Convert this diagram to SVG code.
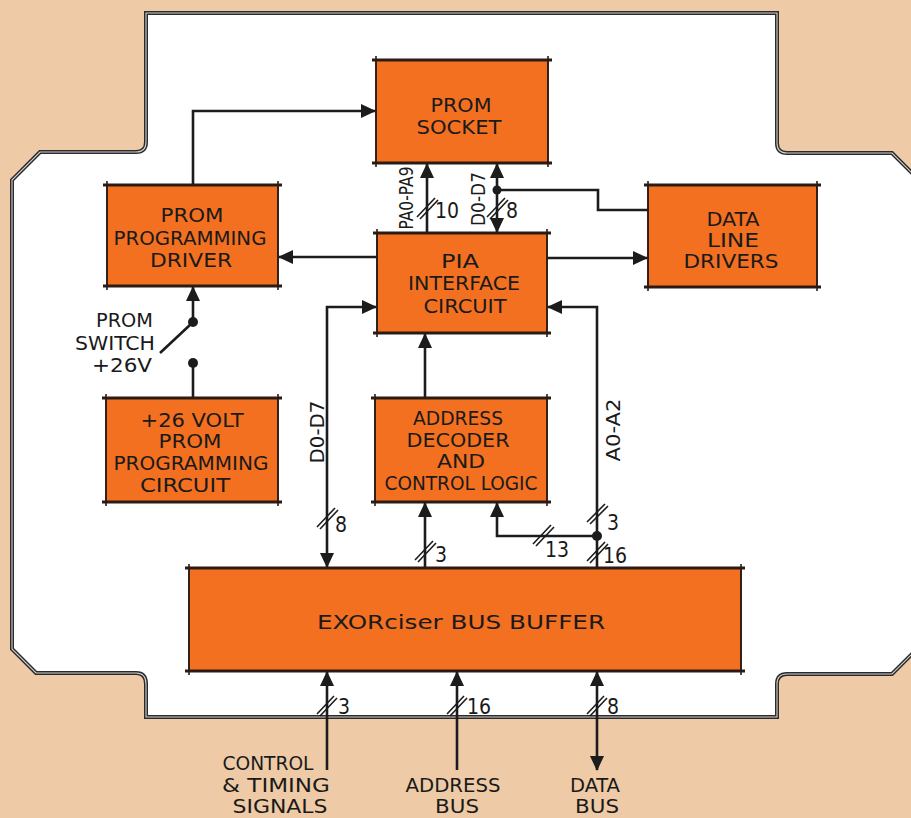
<svg xmlns="http://www.w3.org/2000/svg" xmlns:xlink="http://www.w3.org/1999/xlink" width="911" height="818" viewBox="0 0 911 818">
<style>
.box{fill:#F37021;stroke:#2a1c14;stroke-width:1.6}
.hz{stroke:#2a1c14;stroke-width:3;fill:none}
.vt{stroke:#2a1c14;stroke-width:1.6;fill:none}
.t{font-family:"DejaVu Sans Condensed","DejaVu Sans","Liberation Sans",sans-serif;font-size:20px;fill:#1a1a1a;text-anchor:middle}
.n{text-anchor:start;font-size:21px}
.e{text-anchor:end}
.c{fill:none;stroke:#1c1c1c;stroke-width:2.6}
.ae{marker-end:url(#ah)}
.as{marker-start:url(#ah)}
.sl{fill:none;stroke:#1c1c1c;stroke-width:1.6}
.dot{fill:#1c1c1c}
</style>
<defs>
<marker id="ah" viewBox="0 0 15 14" markerWidth="15" markerHeight="14" refX="14" refY="7" orient="auto-start-reverse" markerUnits="userSpaceOnUse">
<path d="M0,0 L15,7 L0,14 Z" fill="#1c1c1c"/>
</marker>
<path id="outline" d="M146,13 H777 V143 Q777,153 787,153 H892 L925,186 V641 L892,674 H787 Q777,674 777,684 V717 H146 V684 Q146,673 136,673 H36 L12,649 V180 L40,152 H136 Q146,152 146,142 Z"/>
</defs>
<rect x="0" y="0" width="911" height="818" fill="#EECBA6"/>
<g id="board">
<use xlink:href="#outline" fill="#ffffff" stroke="#2b2b2b" stroke-width="4"/>
<use xlink:href="#outline" fill="none" stroke="#cfcfcf" stroke-width="1.1"/>
</g>
<g id="connectors">
<path class="c ae" d="M193,185 V111 H375"/>
<path class="c ae" d="M377,257 H279"/>
<path class="c ae" d="M427,233 V164"/>
<path class="c ae as" d="M497,232 V164"/>
<path class="c" d="M497,190 H598 V210 H648"/>
<path class="c ae" d="M547,258 H647"/>
<path class="c ae" d="M193,322 V287"/>
<path class="c" d="M191,324 L160,353"/>
<path class="c" d="M193,363 V398"/>
<path class="c ae as" d="M327,567 V307 H376"/>
<path class="c ae" d="M597,568 V307 H548"/>
<path class="c ae" d="M425,398 V334"/>
<path class="c ae" d="M425,568 V503"/>
<path class="c ae" d="M597,536 H497 V503"/>
<path class="c ae" d="M327,770 V672"/>
<path class="c ae" d="M457,770 V672"/>
<path class="c ae as" d="M597,770 V672"/>
<circle class="dot" cx="497" cy="190" r="4.5"/>
<circle class="dot" cx="193" cy="322" r="5"/>
<circle class="dot" cx="193" cy="363" r="5"/>
<circle class="dot" cx="597" cy="536" r="5"/>
<path class="sl" d="M417,217 L435,198 M420,219 L438,200"/>
<path class="sl" d="M487,217 L505,198 M490,219 L508,200"/>
<path class="sl" d="M317,527 L335,508 M320,529 L338,510"/>
<path class="sl" d="M415,560 L433,541 M418,562 L436,543"/>
<path class="sl" d="M533,544 L551,525 M536,546 L554,527"/>
<path class="sl" d="M587,522 L605,504 M590,524 L608,506"/>
<path class="sl" d="M587,561 L605,542 M590,563 L608,544"/>
<path class="sl" d="M317,714 L334,696 M320,716 L337,698"/>
<path class="sl" d="M447,714 L464,696 M450,716 L467,698"/>
<path class="sl" d="M587,714 L604,696 M590,716 L607,698"/>
<text class="t" transform="translate(413,198) rotate(-90)" font-size="19" textLength="63" lengthAdjust="spacingAndGlyphs">PA0-PA9</text>
<text class="t" transform="translate(485,199) rotate(-90)" font-size="22" textLength="54" lengthAdjust="spacingAndGlyphs">D0-D7</text>
<text class="t" transform="translate(324,432) rotate(-90)" font-size="24" textLength="63" lengthAdjust="spacingAndGlyphs">D0-D7</text>
<text class="t" transform="translate(620,430) rotate(-90)" font-size="24" textLength="63" lengthAdjust="spacingAndGlyphs">A0-A2</text>
<text class="t n" x="435" y="218">10</text>
<text class="t n" x="506" y="218">8</text>
<text class="t n" x="335" y="532">8</text>
<text class="t n" x="435" y="562">3</text>
<text class="t n" x="545" y="557">13</text>
<text class="t n" x="607" y="530">3</text>
<text class="t n" x="603" y="563">16</text>
<text class="t n" x="338" y="714">3</text>
<text class="t n" x="467" y="714">16</text>
<text class="t n" x="607" y="714">8</text>
<text class="t e" x="153" y="327" textLength="57" lengthAdjust="spacingAndGlyphs">PROM</text>
<text class="t e" x="155" y="350" textLength="80" lengthAdjust="spacingAndGlyphs">SWITCH</text>
<text class="t e" x="152" y="372" textLength="60" lengthAdjust="spacingAndGlyphs">+26V</text>
<text class="t" x="268" y="770" textLength="91" lengthAdjust="spacingAndGlyphs">CONTROL</text>
<text class="t" x="276" y="792" textLength="108" lengthAdjust="spacingAndGlyphs">&amp; TIMING</text>
<text class="t" x="280" y="813" textLength="95" lengthAdjust="spacingAndGlyphs">SIGNALS</text>
<text class="t" x="453" y="792" textLength="95" lengthAdjust="spacingAndGlyphs">ADDRESS</text>
<text class="t" x="457" y="813" textLength="44" lengthAdjust="spacingAndGlyphs">BUS</text>
<text class="t" x="595" y="792" textLength="50" lengthAdjust="spacingAndGlyphs">DATA</text>
<text class="t" x="597" y="813" textLength="44" lengthAdjust="spacingAndGlyphs">BUS</text>
</g>
<g id="prom-socket">
<rect class="box" x="376" y="60" width="172" height="103"/>
<path class="hz" d="M372,60 H552 M372,163 H552"/>
<path class="vt" d="M376,56 V167 M548,56 V167"/>
<text class="t" x="461" y="112" font-size="22" textLength="61" lengthAdjust="spacingAndGlyphs">PROM</text>
<text class="t" x="459" y="134" font-size="22" textLength="85" lengthAdjust="spacingAndGlyphs">SOCKET</text>
</g>
<g id="prom-programming-driver">
<rect class="box" x="107" y="185" width="171" height="101"/>
<path class="hz" d="M103,185 H282 M103,286 H282"/>
<path class="vt" d="M107,181 V290 M278,181 V290"/>
<text class="t" x="192" y="222" textLength="63" lengthAdjust="spacingAndGlyphs">PROM</text>
<text class="t" x="190" y="245" textLength="153" lengthAdjust="spacingAndGlyphs">PROGRAMMING</text>
<text class="t" x="191" y="267" textLength="82" lengthAdjust="spacingAndGlyphs">DRIVER</text>
</g>
<g id="pia-interface">
<rect class="box" x="377" y="233" width="170" height="100"/>
<path class="hz" d="M373,233 H551 M373,333 H551"/>
<path class="vt" d="M377,229 V337 M547,229 V337"/>
<text class="t" x="460" y="268" textLength="38" lengthAdjust="spacingAndGlyphs">PIA</text>
<text class="t" x="464" y="290" textLength="112" lengthAdjust="spacingAndGlyphs">INTERFACE</text>
<text class="t" x="465" y="313" textLength="83" lengthAdjust="spacingAndGlyphs">CIRCUIT</text>
</g>
<g id="data-line-drivers">
<rect class="box" x="648" y="185" width="169" height="102"/>
<path class="hz" d="M644,185 H821 M644,287 H821"/>
<path class="vt" d="M648,181 V291 M817,181 V291"/>
<text class="t" x="733" y="226" textLength="53" lengthAdjust="spacingAndGlyphs">DATA</text>
<text class="t" x="733" y="247" textLength="52" lengthAdjust="spacingAndGlyphs">LINE</text>
<text class="t" x="731" y="268" textLength="95" lengthAdjust="spacingAndGlyphs">DRIVERS</text>
</g>
<g id="prom-programming-circuit">
<rect class="box" x="106" y="398" width="172" height="104"/>
<path class="hz" d="M102,398 H282 M102,502 H282"/>
<path class="vt" d="M106,394 V506 M278,394 V506"/>
<text class="t" x="192" y="427" textLength="103" lengthAdjust="spacingAndGlyphs">+26 VOLT</text>
<text class="t" x="190" y="448" textLength="63" lengthAdjust="spacingAndGlyphs">PROM</text>
<text class="t" x="191" y="470" textLength="155" lengthAdjust="spacingAndGlyphs">PROGRAMMING</text>
<text class="t" x="185" y="492" textLength="90" lengthAdjust="spacingAndGlyphs">CIRCUIT</text>
</g>
<g id="address-decoder">
<rect class="box" x="375" y="398" width="172" height="104"/>
<path class="hz" d="M371,398 H551 M371,502 H551"/>
<path class="vt" d="M375,394 V506 M547,394 V506"/>
<text class="t" x="458" y="425" textLength="90" lengthAdjust="spacingAndGlyphs">ADDRESS</text>
<text class="t" x="458" y="447" textLength="103" lengthAdjust="spacingAndGlyphs">DECODER</text>
<text class="t" x="461" y="468" textLength="48" lengthAdjust="spacingAndGlyphs">AND</text>
<text class="t" x="461" y="490" textLength="153" lengthAdjust="spacingAndGlyphs">CONTROL LOGIC</text>
</g>
<g id="bus-buffer">
<rect class="box" x="189" y="568" width="552" height="103"/>
<path class="hz" d="M185,568 H745 M185,671 H745"/>
<path class="vt" d="M189,564 V675 M741,564 V675"/>
<text class="t" x="461" y="629" font-size="22" textLength="288" lengthAdjust="spacingAndGlyphs">EXORciser BUS BUFFER</text>
</g>
</svg>
